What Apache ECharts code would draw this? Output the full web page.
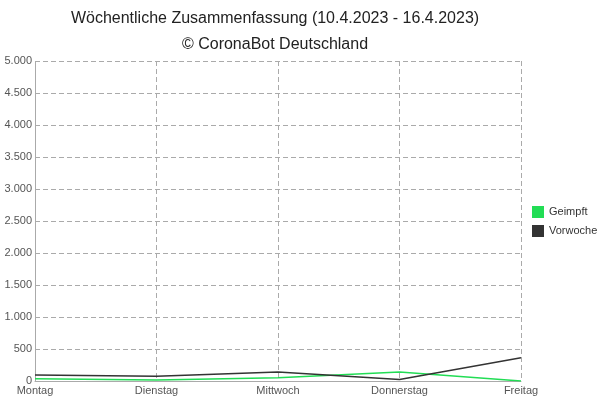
<!DOCTYPE html><html><head><meta charset="utf-8"><script src="https://cdn.jsdelivr.net/npm/echarts@6/dist/echarts.min.js"></script></head><body style="margin:0"><div id="c" style="width:600px;height:400px"></div><script>
const categories=["Montag","Dienstag","Mittwoch","Donnerstag","Freitag"];
const geimpft=[35,15,50,140,0];
const vorwoche=[95,75,140,25,365];
const c=echarts.init(document.getElementById('c'));
const dash={show:true,lineStyle:{type:[5,3],color:'#aaa'}};
c.setOption({animation:false,
title:{text:'Wöchentliche Zusammenfassung (10.4.2023 - 16.4.2023)\n© CoronaBot Deutschland',left:270,textAlign:'center',top:1,textStyle:{fontFamily:'Liberation Sans',fontWeight:'normal',fontSize:16,color:'#222',lineHeight:26}},
legend:{orient:'vertical',left:527,top:201,itemWidth:12,itemHeight:12,itemGap:7,icon:'rect',textStyle:{fontFamily:'Liberation Sans',fontSize:11,color:'#333'},data:['Geimpft','Vorwoche']},
grid:{left:35,right:79,top:61,bottom:19},
xAxis:{type:'category',data:categories,boundaryGap:false,axisLine:{lineStyle:{color:'#aaa'}},axisTick:{show:false},splitLine:dash,axisLabel:{color:'#555',fontFamily:'Liberation Sans',fontSize:11,margin:4}},
yAxis:{type:'value',min:0,max:5000,interval:500,axisLine:{show:true,lineStyle:{color:'#aaa',type:[5,3]}},splitLine:dash,axisLabel:{color:'#555',fontFamily:'Liberation Sans',fontSize:11,margin:3,formatter:v=>v.toLocaleString('de-DE')}},
series:[{name:'Geimpft',type:'line',data:geimpft,showSymbol:false,color:'#22dd55',lineStyle:{width:1.5}},
{name:'Vorwoche',type:'line',data:vorwoche,showSymbol:false,color:'#333',lineStyle:{width:1.5}}]});
</script></body></html>
